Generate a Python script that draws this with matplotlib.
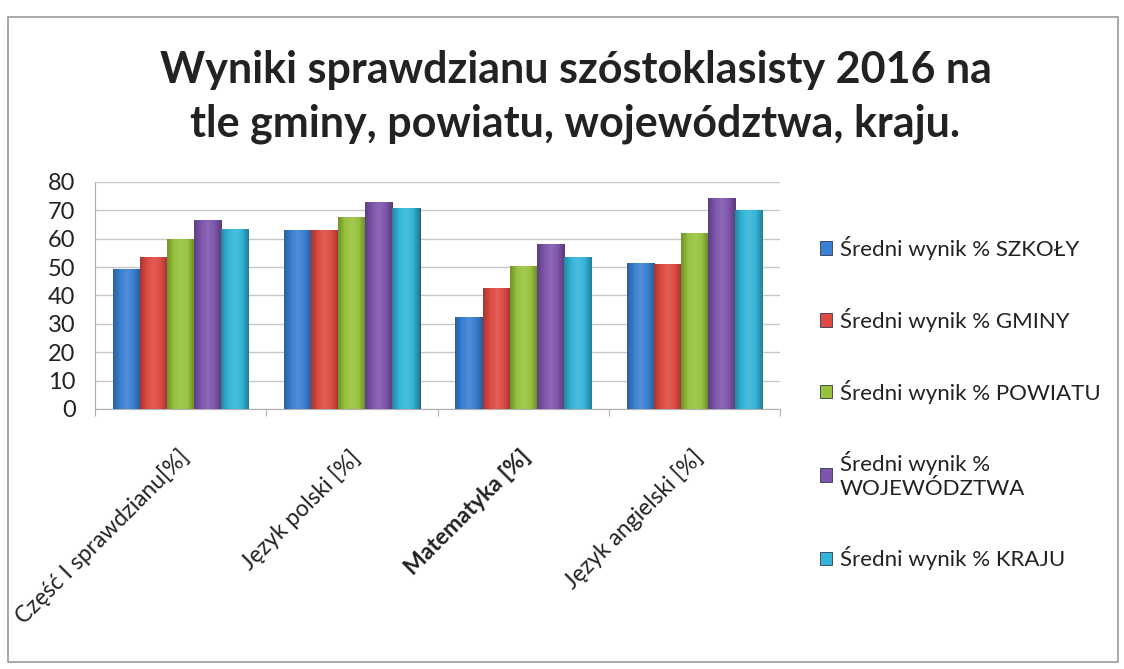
import numpy as np
import matplotlib
matplotlib.use("Agg")
from matplotlib import pyplot as plt
from matplotlib.patches import Rectangle
from matplotlib.colors import LinearSegmentedColormap, to_rgb

plt.rcParams['font.family'] = ['Lato', 'DejaVu Sans']

# categories on the x axis
categories = ['Część I sprawdzianu[%]', 'Język polski [%]', 'Matematyka [%]', 'Język angielski [%]']

# series
szkoly = [49.5, 63, 32.5, 51.5]
gminy = [53.5, 63, 42.5, 51]
powiatu = [60, 67.5, 50.5, 62]
wojewodztwa = [66.5, 73, 58, 74.5]
kraju = [63.5, 71, 53.5, 70]

labels = ['Średni wynik % SZKOŁY', 'Średni wynik % GMINY', 'Średni wynik % POWIATU',
          'Średni wynik %\nWOJEWÓDZTWA', 'Średni wynik % KRAJU']
colors = ['#3a7fd2', '#dd4a42', '#97c23c', '#7d55ab', '#33b4d8']

series = [szkoly, gminy, powiatu, wojewodztwa, kraju]


def shade(c, f):
    r = np.array(to_rgb(c))
    if f < 0:
        return tuple(r * (1 + f))
    return tuple(r + (1 - r) * f)


fig = plt.figure(figsize=(11.24, 6.69), dpi=100)
ax = fig.add_axes([95 / 1124, 1 - 409 / 669, 685 / 1124, 227 / 669])

x = np.arange(len(categories))
w = 0.158
grad = np.linspace(0, 1, 64).reshape(1, -1)
handles = []
for i, (vals, c) in enumerate(zip(series, colors)):
    bars = ax.bar(x + (i - 2) * w, vals, w, color=c, edgecolor='#2a3a55', linewidth=0.6, zorder=3)
    handles.append(bars)
    cmap = LinearSegmentedColormap.from_list(
        'b%d' % i, [shade(c, -0.25), c, shade(c, 0.12), c, shade(c, -0.3)])
    for p in bars.patches:
        x0, y0 = p.get_x(), p.get_y()
        im = ax.imshow(grad, cmap=cmap, aspect='auto', zorder=3.5,
                       extent=(x0, x0 + p.get_width(), y0, y0 + p.get_height()))
        im.set_clip_path(p)

ax.set_xlim(-0.5, len(categories) - 0.5)
ax.set_ylim(0, 80)
ax.set_aspect('auto')
ax.set_yticks(range(0, 81, 10))
ax.tick_params(axis='y', labelsize=17, length=0, pad=14, labelcolor='#222222')
ax.yaxis.grid(True, color='#c8c8c8', linewidth=1.0, zorder=0)
ax.set_xticks(np.arange(-0.5, len(categories), 1.0))
ax.set_xticklabels([])
ax.tick_params(axis='x', length=5, color='#b0b0b0', direction='out')
for s in ['top', 'right']:
    ax.spines[s].set_visible(False)
ax.spines['left'].set_color('#b0b0b0')
ax.spines['bottom'].set_color('#b0b0b0')

for i, cat in enumerate(categories):
    ax.text(i - 0.02, -13, cat, rotation=45, ha='right', va='top', fontsize=16.5,
            fontweight='bold' if cat.startswith('Matematyka') else 'normal',
            color='#222222', rotation_mode='anchor', transform=ax.transData)

fig.text(0.512, 1 - 70 / 669, 'Wyniki sprawdzianu szóstoklasisty 2016 na', ha='center', va='center',
         fontsize=31, fontweight='bold', color='#222222')
fig.text(0.512, 1 - 124 / 669, 'tle gminy, powiatu, województwa, kraju.', ha='center', va='center',
         fontsize=31, fontweight='bold', color='#222222')

leg = fig.legend(handles, labels, loc='upper left', bbox_to_anchor=(800 / 1124, 1 - 216 / 669),
                 frameon=False, fontsize=16, labelspacing=2.15, handlelength=0.55, handleheight=0.55,
                 handletextpad=0.35)
for t in leg.get_texts():
    t.set_color('#222222')

fig.patches.append(Rectangle((8 / 1124, 1 - 662 / 669), 1110 / 1124, 645 / 669, transform=fig.transFigure,
                             fill=False, edgecolor='#9a9a9a', linewidth=1.2))

fig.savefig('out.png', dpi=100)
